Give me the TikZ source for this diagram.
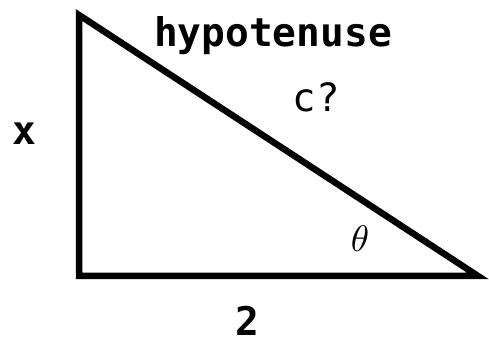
\documentclass[tikz,border=0pt]{standalone}
\usepackage{fontspec}
\newfontfamily\monofont{DejaVu Sans Mono}
\begin{document}
\begin{tikzpicture}[x=1pt,y=1pt,
  side/.style={line width=6.5pt, line join=miter},
  lab/.style={font=\monofont\fontsize{39}{41}\selectfont, inner sep=0pt, anchor=base},
  blab/.style={font=\monofont\bfseries\fontsize{39.5}{41}\selectfont, inner sep=0pt, anchor=base}]
\useasboundingbox (0,0) rectangle (489,347);
\coordinate (A) at (79,332);
\coordinate (B) at (79,71);
\coordinate (C) at (478,71);
\draw[side] (A) -- (B) -- (C) -- cycle;
\node[blab] (hyp) at (273,300) {hypotenuse};
\node[lab] (c) at (316,235) {c?};
\node[blab] (x) at (24,202) {x};
\node[blab] (two) at (247,11) {2};
\node[inner sep=0pt, scale=3.7] (th) at (360,108) {$\theta$};
\end{tikzpicture}
\end{document}
